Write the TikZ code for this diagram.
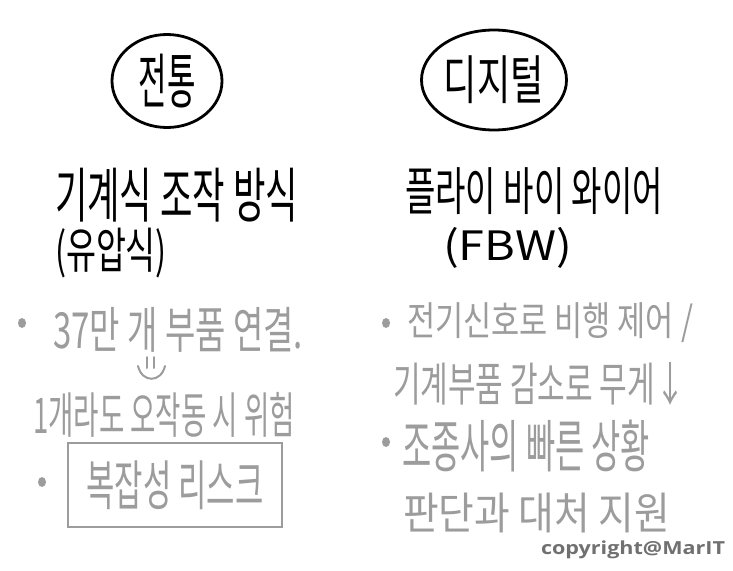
\documentclass[tikz,border=0pt]{standalone}
\usepackage{fontspec}
\setmainfont{Noto Sans CJK KR}
\newfontfamily\copyfont{Open Sans}
\usetikzlibrary{shapes.geometric}
\definecolor{pencil}{HTML}{9C9C9C}
\definecolor{mark}{HTML}{707070}
\newcommand\hw[3]{\resizebox*{#1pt}{#2pt}{#3}}
\tikzset{
  hand/.style={inner sep=0pt, outer sep=0pt, anchor=north west},
  ink/.style={text=black},
  pale/.style={text=pencil},
  badge/.style={draw=black, ellipse, line width=2.8pt, inner sep=0pt},
  dot/.style={ellipse, fill=pencil, inner sep=0pt, minimum width=8pt, minimum height=10pt},
  riskbox/.style={draw=pencil, line width=2.4pt, inner sep=0pt, text=pencil},
  doodle/.style={draw=pencil, line width=2pt, line cap=round}
}
\begin{document}
\begin{tikzpicture}[x=1pt,y=-1pt]
\useasboundingbox[fill=white] (0,0) rectangle (733,570);
% header badges
\node[badge, minimum width=110pt, minimum height=93pt] (c1) at (167,81) {\hw{57}{54}{전통}};
\node[badge, minimum width=145pt, minimum height=100pt] (c2) at (494,80) {\hw{100}{48}{디지털}};
% headings
\node[hand, ink] (h1) at (55,168) {\hw{243}{54}{기계식 조작 방식}};
\node[hand, ink] (h1b) at (55,228) {\hw{112}{50}{(유압식)}};
\node[hand, ink] (h2) at (405,168) {\hw{258}{47}{플라이 바이 와이어}};
\node[hand, ink] (h2b) at (443,227) {\hw{129}{41}{(FBW)}};
% left column
\node[dot] (b1) at (22,323) {};
\node[hand, pale] (l1) at (53,307) {\hw{250}{45}{37만 개 부품 연결.}};
\draw[doodle] (147,357) -- (147,368);
\draw[doodle] (154,357) -- (154,368);
\draw[doodle] (138,366) .. controls (142,383) and (161,383) .. (165,366);
\node[hand, pale] (l2) at (33,392) {\hw{262}{45}{1개라도 오작동 시 위험}};
\node[dot] (b2) at (42,482) {};
\node[riskbox, minimum width=214pt, minimum height=84pt] (box) at (175,485) {\hw{177}{49}{복잡성 리스크}};
% right column
\node[dot] (b3) at (386,323) {};
\node[hand, pale] (r1) at (407,303) {\hw{286}{40}{전기신호로 비행 제어 /}};
\node[hand, pale] (r2) at (393,362) {\hw{292}{43}{기계부품 감소로 무게↓}};
\node[dot] (b4) at (386,442) {};
\node[hand, pale] (r3) at (402,420) {\hw{248}{52}{조종사의 빠른 상황}};
\node[hand, pale] (r4) at (403,493) {\hw{267}{40}{판단과 대처 지원}};
% credit
\node[hand, text=mark] (cr) at (541,541) {\hw{184}{18}{\copyfont\bfseries copyright@MarIT}};
\end{tikzpicture}
\end{document}
